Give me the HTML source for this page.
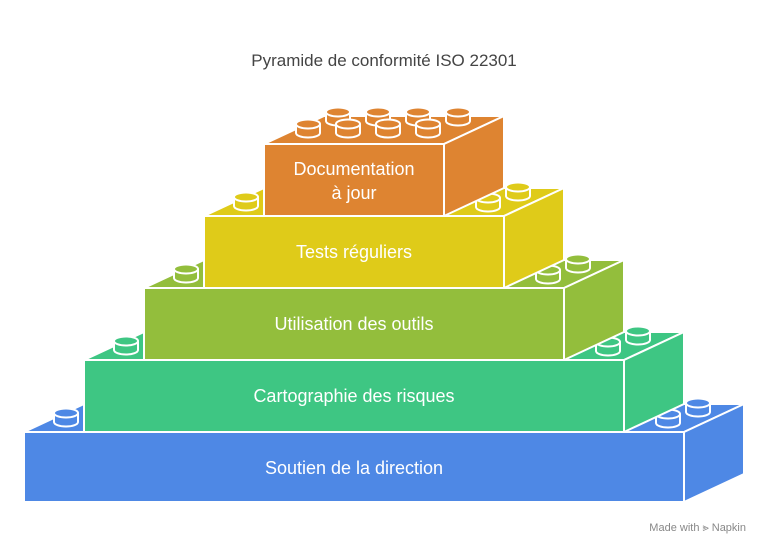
<!DOCTYPE html>
<html><head><meta charset="utf-8"><style>
body{margin:0;background:#fff;width:768px;height:552px;overflow:hidden}
text{font-family:"Liberation Sans",sans-serif}
</style></head><body>
<svg width="768" height="552" viewBox="0 0 768 552" xmlns="http://www.w3.org/2000/svg">
<defs>
<g id="stud">
<path d="M-12 0 v9 a12 4.5 0 0 0 24 0 v-9" stroke="#fff" stroke-width="2" fill="inherit"/>
<ellipse cx="0" cy="0" rx="12" ry="4.5" stroke="#fff" stroke-width="2" fill="inherit"/>
</g>
</defs>
<text x="384" y="66" text-anchor="middle" font-size="17" fill="#444">Pyramide de conformité ISO 22301</text>
<g stroke="#fff" stroke-width="2" stroke-linejoin="round">
<g fill="#4e88e5">
<polygon points="24,432 84,404 744,404 684,432"/>
<polygon points="684,432 744,404 744,474 684,502"/>
<use href="#stud" x="66" y="413"/><use href="#stud" x="668" y="414"/><use href="#stud" x="698" y="403"/>
</g>
<g fill="#3ec683">
<polygon points="84,360 144,332 684,332 624,360"/>
<polygon points="624,360 684,332 684,404 624,432"/>
<use href="#stud" x="126" y="341"/><use href="#stud" x="608" y="342"/><use href="#stud" x="638" y="331"/>
</g>
<polygon points="84,360 624,360 624,432 84,432" fill="#3ec683"/>
<g fill="#93be3c">
<polygon points="144,288 204,260 624,260 564,288"/>
<polygon points="564,288 624,260 624,332 564,360"/>
<use href="#stud" x="186" y="269"/><use href="#stud" x="548" y="270"/><use href="#stud" x="578" y="259"/>
</g>
<polygon points="144,288 564,288 564,360 144,360" fill="#93be3c"/>
<g fill="#dfcb19">
<polygon points="204,216 264,188 564,188 504,216"/>
<polygon points="504,216 564,188 564,260 504,288"/>
<use href="#stud" x="246" y="197"/><use href="#stud" x="488" y="198"/><use href="#stud" x="518" y="187"/>
</g>
<polygon points="204,216 504,216 504,288 204,288" fill="#dfcb19"/>
<g fill="#de8431">
<polygon points="264,144 324,116 504,116 444,144"/>
<polygon points="444,144 504,116 504,188 444,216"/>
<use href="#stud" x="338" y="112"/><use href="#stud" x="378" y="112"/><use href="#stud" x="418" y="112"/><use href="#stud" x="458" y="112"/>
<use href="#stud" x="308" y="124"/><use href="#stud" x="348" y="124"/><use href="#stud" x="388" y="124"/><use href="#stud" x="428" y="124"/>
</g>
<polygon points="264,144 444,144 444,216 264,216" fill="#de8431"/>
<polygon points="24,432 684,432 684,502 24,502" fill="#4e88e5"/>
</g>
<g fill="#fff" font-size="18" text-anchor="middle">
<text x="354" y="474">Soutien de la direction</text>
<text x="354" y="402">Cartographie des risques</text>
<text x="354" y="330">Utilisation des outils</text>
<text x="354" y="258">Tests réguliers</text>
<text x="354" y="175">Documentation</text>
<text x="354" y="199">à jour</text>
</g>
<text x="746" y="531" text-anchor="end" font-size="11" fill="#888">Made with ⪢ Napkin</text>
</svg>
</body></html>
